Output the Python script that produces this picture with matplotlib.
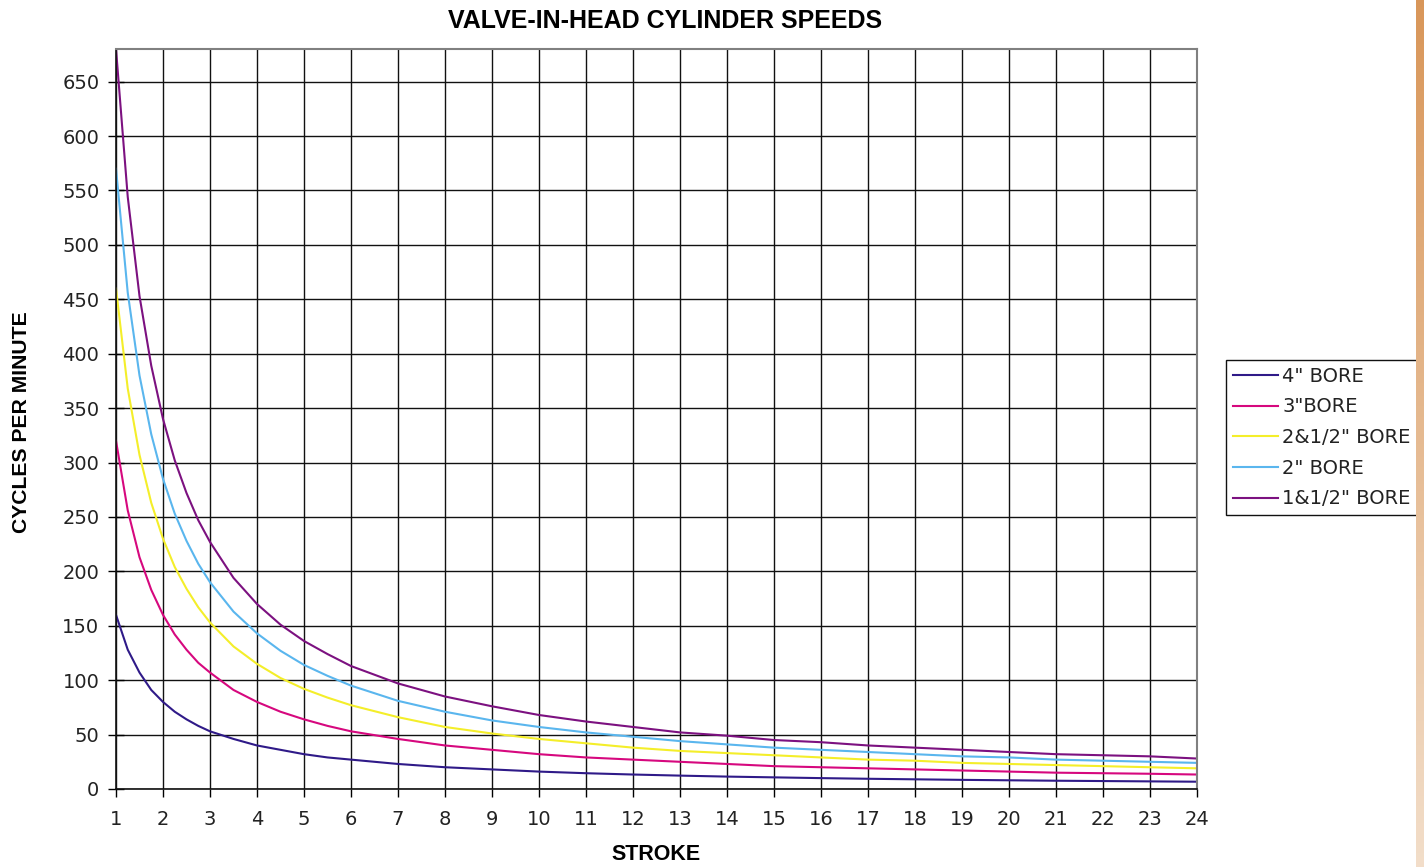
#!/usr/bin/env python3
"""Valve-in-head cylinder speeds: cycles per minute vs stroke for several bores."""

import numpy as np
import matplotlib
matplotlib.use("Agg")
import matplotlib.pyplot as plt

# Stroke values (inches) where the curves were sampled
stroke = [1, 1.25, 1.5, 1.75, 2, 2.25, 2.5, 2.75, 3, 3.5, 4, 4.5, 5, 5.5, 6,
          7, 8, 9, 10, 11, 12, 13, 14, 15, 16, 17, 18, 19, 20, 21, 22, 23, 24]

# Cycles per minute
bore_4 = [160, 128, 107, 91, 80, 71, 64, 58, 53, 46, 40, 36, 32, 29, 27,
          23, 20, 18, 16, 14.5, 13.3, 12.3, 11.4, 10.7, 10, 9.4, 8.9, 8.4, 8, 7.6, 7.3, 7, 6.7]
bore_3 = [320, 256, 213, 183, 160, 142, 128, 116, 107, 91, 80, 71, 64, 58, 53,
          46, 40, 36, 32, 29, 27, 25, 23, 21, 20, 19, 18, 17, 16, 15, 14.5, 14, 13.3]
bore_2_5 = [460, 368, 307, 263, 230, 204, 184, 167, 153, 131, 115, 102, 92, 84, 77,
            66, 57, 51, 46, 42, 38, 35, 33, 31, 29, 27, 26, 24, 23, 22, 21, 20, 19]
bore_2 = [570, 456, 380, 326, 285, 253, 228, 207, 190, 163, 143, 127, 114, 104, 95,
          81, 71, 63, 57, 52, 48, 44, 41, 38, 36, 34, 32, 30, 29, 27, 26, 25, 24]
bore_1_5 = [680, 544, 453, 389, 340, 302, 272, 247, 227, 194, 170, 151, 136, 124, 113,
            97, 85, 76, 68, 62, 57, 52, 49, 45, 43, 40, 38, 36, 34, 32, 31, 30, 28]

series = [
    ('4" BORE', bore_4, "#2f1a88"),
    ('3"BORE', bore_3, "#d6087e"),
    ('2&1/2" BORE', bore_2_5, "#f4ee2a"),
    ('2" BORE', bore_2, "#5ab6ee"),
    ('1&1/2" BORE', bore_1_5, "#7c1180"),
]

W, H = 1424, 867
fig = plt.figure(figsize=(W / 100, H / 100), dpi=100)
ax = fig.add_axes([116 / W, 1 - 789 / H, (1197 - 116) / W, (789 - 49) / H])

for label, values, color in series:
    ax.plot(stroke, values, color=color, linewidth=1.5, label=label)

ax.set_xlim(1, 24)
ax.set_ylim(0, 680)
ax.set_xticks(range(1, 25))
ax.set_yticks(range(0, 651, 50))
ax.grid(True, color="#111111", linewidth=1.0)
ax.set_axisbelow(True)
ax.tick_params(axis="y", direction="inout", length=12, width=1, labelsize=14,
               labelcolor="#222222", pad=6)
ax.tick_params(axis="x", direction="out", length=6, width=1, labelsize=14,
               labelcolor="#222222", pad=9)
for side in ("left", "bottom"):
    ax.spines[side].set_color("#111111")
    ax.spines[side].set_linewidth(1.2)
for side in ("top", "right"):
    ax.spines[side].set_color("#808080")
    ax.spines[side].set_linewidth(1.5)

fig.text(665 / W, 1 - 21 / H, "VALVE-IN-HEAD CYLINDER SPEEDS", ha="center", va="center",
         fontsize=18, fontweight="bold", family="Liberation Sans")
fig.text(656 / W, 1 - 855 / H, "STROKE", ha="center", va="center",
         fontsize=15.5, fontweight="bold", family="Liberation Sans")
fig.text(22 / W, 1 - 422 / H, "CYCLES PER MINUTE", ha="center", va="center", rotation=90,
         fontsize=15.2, fontweight="bold", family="Liberation Sans")

leg = ax.legend(loc="upper left", bbox_to_anchor=(1226 / W, 1 - 360 / H),
                bbox_transform=fig.transFigure, borderaxespad=0, fancybox=False,
                framealpha=1, edgecolor="#111111", handlelength=2.3,
                handletextpad=0.25, labelspacing=0.6, borderpad=0.35,
                prop={"size": 14})
leg.get_frame().set_linewidth(1.0)
for text in leg.get_texts():
    text.set_color("#222222")

# Orange gradient strip along the right edge
strip = fig.add_axes([1416 / W, 0, 8 / W, 1])
grad = np.linspace(0, 1, 256).reshape(-1, 1)
top = np.array([0.85, 0.59, 0.35])
bottom = np.array([0.95, 0.87, 0.79])
img = top + (bottom - top) * grad[:, :, None]
strip.imshow(img, aspect="auto", extent=(0, 1, 0, 1), origin="upper")
strip.set_axis_off()

fig.savefig("out.png", dpi=100)
plt.close(fig)
